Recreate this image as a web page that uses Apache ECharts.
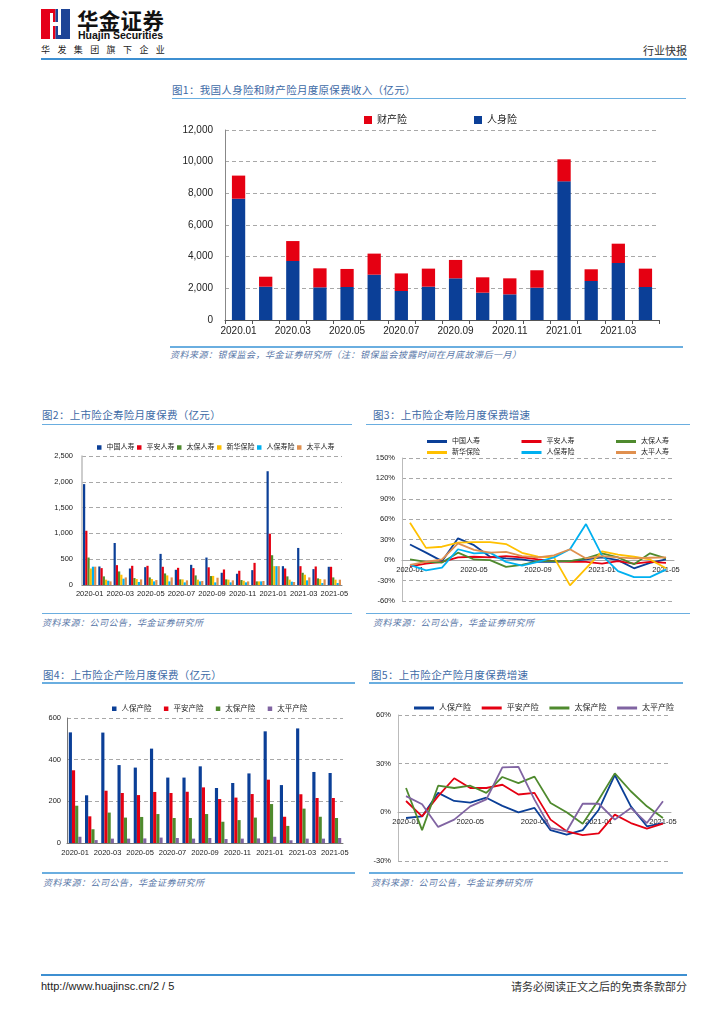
<!DOCTYPE html>
<html><head><meta charset="utf-8">
<script src="https://cdn.jsdelivr.net/npm/echarts/dist/echarts.min.js"></script>
<style>
body{margin:0;background:#fff;}
#page{position:relative;width:724px;height:1024px;background:#fff;overflow:hidden;font-family:"Noto Sans CJK SC","Liberation Sans",sans-serif;}
.t{position:absolute;white-space:nowrap;}
.title{font-size:10.5px;line-height:12px;color:#3d6aa6;letter-spacing:0.3px;}
.src{font-size:9px;line-height:10px;color:#5a78a8;font-style:italic;letter-spacing:0.5px;}
.ln{position:absolute;height:1.5px;background:#6aaee0;}
.ch{position:absolute;}
</style></head>
<body><div id="page">
<!-- header -->
<svg class="t" style="left:41px;top:9px" width="29" height="30" viewBox="0 0 29 30">
<rect x="0" y="0" width="14.5" height="30" fill="#e50019"/>
<rect x="14.5" y="0" width="14.5" height="30" fill="#1e4496"/>
<rect x="9" y="4" width="3" height="26" fill="#fff"/>
<rect x="17" y="0" width="3" height="26" fill="#fff"/>
<rect x="12" y="13" width="5" height="4" fill="#fff"/>
</svg>
<div class="t" style="left:77px;top:8px;font-size:21.5px;line-height:24px;font-weight:bold;color:#111;letter-spacing:0.3px;">华金证券</div>
<div class="t" style="left:78px;top:30px;font-size:10.5px;line-height:11px;font-weight:bold;color:#111;font-family:'Liberation Sans',sans-serif;">Huajin Securities</div>
<div class="t" style="left:41px;top:45px;font-size:9px;line-height:10px;color:#222;letter-spacing:7.4px;">华发集团旗下企业</div>
<div class="t" style="left:643px;top:44px;font-size:11px;line-height:12px;color:#333;">行业快报</div>
<div class="ln" style="left:41px;top:58px;width:646px;height:2px;background:#3d8fd1;"></div>

<!-- chart 1 -->
<div class="t title" style="left:172px;top:84px;">图1：我国人身险和财产险月度原保费收入（亿元）</div>
<div class="ln" style="left:172px;top:97.5px;width:514px;"></div>
<div id="c1" class="ch" style="left:170px;top:105px;width:520px;height:235px;"></div>
<div class="ln" style="left:170px;top:346px;width:513px;"></div>
<div class="t src" style="left:170px;top:350px;">资料来源：银保监会，华金证券研究所（注：银保监会披露时间在月底故滞后一月）</div>

<!-- chart 2 -->
<div class="t title" style="left:42px;top:409px;">图2：上市险企寿险月度保费（亿元）</div>
<div class="ln" style="left:42px;top:423.5px;width:310px;"></div>
<div id="c2" class="ch" style="left:30px;top:425px;width:330px;height:185px;"></div>
<div class="ln" style="left:42px;top:612.5px;width:310px;"></div>
<div class="t src" style="left:42px;top:618px;">资料来源：公司公告，华金证券研究所</div>

<!-- chart 3 -->
<div class="t title" style="left:373px;top:409px;">图3：上市险企寿险月度保费增速</div>
<div class="ln" style="left:366px;top:423.5px;width:324px;"></div>
<div id="c3" class="ch" style="left:360px;top:425px;width:340px;height:185px;"></div>
<div class="ln" style="left:366px;top:612.5px;width:324px;"></div>
<div class="t src" style="left:373px;top:618px;">资料来源：公司公告，华金证券研究所</div>

<!-- chart 4 -->
<div class="t title" style="left:43px;top:669px;">图4：上市险企产险月度保费（亿元）</div>
<div class="ln" style="left:42px;top:682px;width:313px;"></div>
<div id="c4" class="ch" style="left:30px;top:685px;width:330px;height:185px;"></div>
<div class="ln" style="left:42px;top:872px;width:313px;"></div>
<div class="t src" style="left:43px;top:878px;">资料来源：公司公告，华金证券研究所</div>

<!-- chart 5 -->
<div class="t title" style="left:371px;top:669px;">图5：上市险企产险月度保费增速</div>
<div class="ln" style="left:369px;top:682px;width:314px;"></div>
<div id="c5" class="ch" style="left:360px;top:685px;width:340px;height:185px;"></div>
<div class="ln" style="left:369px;top:872px;width:314px;"></div>
<div class="t src" style="left:371px;top:878px;">资料来源：公司公告，华金证券研究所</div>

<!-- footer -->
<div class="ln" style="left:41px;top:974px;width:646px;height:2px;background:#3d8fd1;"></div>
<div class="t" style="left:41px;top:980px;font-size:11px;line-height:12px;color:#222;font-family:'Liberation Sans',sans-serif;">http://www.huajinsc.cn/2 / 5</div>
<div class="t" style="right:37px;top:980px;font-size:11px;line-height:12px;color:#333;">请务必阅读正文之后的免责条款部分</div>
</div>
<script>
// ---------- data ----------
const months1 = ['2020.01','2020.02','2020.03','2020.04','2020.05','2020.06','2020.07','2020.08','2020.09','2020.10','2020.11','2020.12','2021.01','2021.02','2021.03','2021.04'];
const lifeIns = [7660,2105,3726,2063,2084,2863,1832,2105,2632,1726,1621,2042,8758,2463,3600,2084];
const propIns = [1460,630,1260,1200,1140,1330,1110,1140,1160,970,1010,1100,1390,740,1220,1160];

const months2 = ['2020-01','2020-02','2020-03','2020-04','2020-05','2020-06','2020-07','2020-08','2020-09','2020-10','2020-11','2020-12','2021-01','2021-02','2021-03','2021-04','2021-05'];
const chinaLife = [1955,359,814,320,346,603,295,391,532,237,218,288,2205,365,718,308,353];
const pingAnLife = [1051,327,385,372,372,353,333,327,343,301,276,429,994,320,365,359,353];
const cpicLife = [532,167,263,135,147,224,109,186,173,109,96,70,577,167,237,128,147];
const nciLife = [320,103,199,115,115,186,109,103,176,103,83,70,365,103,199,115,103];
const piccLife = [355,83,122,58,70,70,51,70,51,51,51,70,365,64,90,38,38];
const taipingLife = [355,70,147,109,96,147,90,77,141,90,70,77,365,58,147,109,103];

const gChinaLife = [23,11,-1.5,32,22,5,2.5,1,-2.5,-2.5,-1.5,1,4,0,-12,-4,1];
const gPingAnLife = [-9,-5,-2.5,4,5,4,6,4,1,-1.5,-2.5,-2.5,-5,-1.5,-5,-2.5,-4];
const gCpicLife = [1,-2.5,-3.5,11,1,0,-10,-7,-1.5,-1.5,-1.5,2.5,10,4,-6,10,2.5];
const gNciLife = [55,18,19.7,25.6,26.5,26.5,23.6,10.8,5,4,-37,-12,13,8,5,1,-12];
const gPiccLife = [-7,-15,-11,16,10,11,-2.5,-8,-2.5,4,16,53,7,-16,-25,-25,-14];
const gTaipingLife = [-7,-2.5,1,24.6,15,11,12,6,4,7,16,2.5,6,4,2.5,3.5,4];

const piccPC = [531,229,530,374,362,453,314,314,368,264,288,334,536,278,550,341,336];
const pingAnPC = [349,128,251,240,230,245,240,246,267,211,218,235,304,126,234,216,216];
const cpicPC = [179,66,146,122,125,139,120,120,139,102,110,122,187,82,165,126,120];
const taipingPC = [30,14,21,21,22,26,24,21,24,19,21,22,30,13,21,21,24];

const gPiccPC = [-3.5,-2.5,12,7,6,9,4,0,2.7,-11,-13.7,-11,1.6,23,3.7,-8.6,-6.6];
const gPingAnPC = [7,-2.5,10,21,15,15,17,11,12,-4.5,-11.7,-14,-13,-1.4,-6.6,-10,-7];
const gCpicPC = [15,-11,16.4,15,16.4,12,21.8,18,22,5.8,0,-7,7.8,24,13,3.7,-3.5];
const gTaipingPC = [10,5,-9,-4.5,3.7,8,27.7,28,7.8,-9.7,-11.7,5.3,5.3,-4.5,2.7,-6.6,6.8];

// ---------- styles ----------
const F = '"Liberation Sans","Noto Sans CJK SC",sans-serif';
const BLUE = '#0b3f97', RED = '#e50012', GREEN = '#4f8a2e', YELLOW = '#ffc000', LBLUE = '#00b0f0', ORANGE = '#e0904f', PURPLE = '#8064a2';
const dash = {show:true, lineStyle:{type:[4,3], color:'#a8a8a8', width:1}};
const fmtComma = v => v.toLocaleString('en-US');

function mk(id, opt){
  const c = echarts.init(document.getElementById(id), null, {renderer:'canvas'});
  opt.animation = false;
  c.setOption(opt);
  return c;
}
// labels of the line charts sit just under the zero line (the grid bottom is below it)
function zeroMargin(h, min, max, gap){ return gap - h * (0 - min) / (max - min); }

// chart 1
mk('c1', {
  legend:{data:['财产险','人身险'], left:189, top:5, icon:'rect', itemWidth:8, itemHeight:8, itemGap:67,
    textStyle:{fontSize:10, color:'#222', fontFamily:F}},
  grid:{left:55, top:25, width:434, height:190, containLabel:false, outerBoundsMode:'none'},
  xAxis:{type:'category', data:months1,
    axisLine:{show:true, lineStyle:{color:'#555', width:1}},
    axisTick:{show:true, interval:0, length:4, lineStyle:{color:'#555'}},
    axisLabel:{interval:1, fontSize:10, color:'#222', margin:6, fontFamily:F, hideOverlap:false}},
  yAxis:{type:'value', min:0, max:12000, interval:2000,
    axisLine:{show:true, lineStyle:{color:'#888'}}, axisTick:{show:false}, splitLine:dash,
    axisLabel:{fontSize:10, color:'#222', margin:12, fontFamily:F, formatter:fmtComma}},
  series:[
    {name:'人身险', type:'bar', stack:'t', data:lifeIns, barWidth:'49%', itemStyle:{color:BLUE}},
    {name:'财产险', type:'bar', stack:'t', data:propIns, barWidth:'49%', itemStyle:{color:RED}}
  ]
});

// chart 2
const names2 = ['中国人寿','平安人寿','太保人寿','新华保险','人保寿险','太平人寿'];
const data2 = [chinaLife, pingAnLife, cpicLife, nciLife, piccLife, taipingLife];
const cols6 = [BLUE, RED, GREEN, YELLOW, LBLUE, ORANGE];
mk('c2', {
  legend:{data:names2, left:62, top:14, icon:'rect', itemWidth:4.5, itemHeight:4.5, itemGap:2.5,
    textStyle:{fontSize:7, color:'#222', fontFamily:F}},
  grid:{left:52, top:31, width:260, height:129, containLabel:false, outerBoundsMode:'none'},
  xAxis:{type:'category', data:months2,
    axisLine:{show:true, lineStyle:{color:'#888'}}, axisTick:{show:false},
    axisLabel:{interval:1, fontSize:7.5, color:'#222', margin:5.5, fontFamily:F, hideOverlap:false}},
  yAxis:{type:'value', min:0, max:2500, interval:500,
    axisLine:{show:true, lineStyle:{color:'#bdbdbd', width:1.5}}, axisTick:{show:false}, splitLine:dash,
    axisLabel:{fontSize:7.5, color:'#222', margin:9, fontFamily:F, formatter:fmtComma}},
  series:names2.map((n,i)=>({name:n, type:'bar', data:data2[i], barGap:'0%', barCategoryGap:'13%', itemStyle:{color:cols6[i]}}))
});

// chart 3
const data3 = [gChinaLife, gPingAnLife, gCpicLife, gNciLife, gPiccLife, gTaipingLife];
const legLine = (names, top) => ({data:names, left:62, top:top, icon:'rect', itemWidth:20, itemHeight:3, itemGap:41.5,
    textStyle:{fontSize:7, color:'#222', fontFamily:F}});
mk('c3', {
  legend:[legLine(names2.slice(0,3), 8), legLine(names2.slice(3), 19)],
  grid:{left:42, top:33, width:272, height:143, containLabel:false, outerBoundsMode:'none'},
  xAxis:{type:'category', data:months2, axisLine:{show:true, onZero:true, lineStyle:{color:'#aaa'}}, axisTick:{show:false},
    axisLabel:{interval:3, fontSize:7.5, color:'#222', margin:zeroMargin(143, -60, 150, 6), fontFamily:F, hideOverlap:false}},
  yAxis:{type:'value', min:-60, max:150, interval:30,
    axisLine:{show:true, lineStyle:{color:'#bbb'}}, axisTick:{show:false}, splitLine:dash,
    axisLabel:{fontSize:7.5, color:'#222', margin:7, fontFamily:F, formatter:'{value}%'}},
  series:names2.map((n,i)=>({name:n, type:'line', data:data3[i], symbol:'none', lineStyle:{width:1.8, color:cols6[i]}, itemStyle:{color:cols6[i]}}))
});

// chart 4
const names4 = ['人保产险','平安产险','太保产险','太平产险'];
const cols4 = [BLUE, RED, GREEN, PURPLE];
const data4 = [piccPC, pingAnPC, cpicPC, taipingPC];
mk('c4', {
  legend:{data:names4, left:77, top:15, icon:'rect', itemWidth:4.5, itemHeight:4.5, itemGap:12.4,
    textStyle:{fontSize:7.5, color:'#222', fontFamily:F}},
  grid:{left:37, top:33, width:276, height:125, containLabel:false, outerBoundsMode:'none'},
  xAxis:{type:'category', data:months2,
    axisLine:{show:true, lineStyle:{color:'#777'}}, axisTick:{show:false},
    axisLabel:{interval:1, fontSize:7.5, color:'#222', margin:6, fontFamily:F, hideOverlap:false}},
  yAxis:{type:'value', min:0, max:600, interval:200,
    axisLine:{show:true, lineStyle:{color:'#777'}}, axisTick:{show:false}, splitLine:dash,
    axisLabel:{fontSize:7.5, color:'#222', margin:6, fontFamily:F}},
  series:names4.map((n,i)=>({name:n, type:'bar', data:data4[i], barGap:'0%', barCategoryGap:'22%', itemStyle:{color:cols4[i]}}))
});

// chart 5
const data5 = [gPiccPC, gPingAnPC, gCpicPC, gTaipingPC];
mk('c5', {
  legend:{data:names4, left:49, top:14, icon:'rect', itemWidth:20, itemHeight:3, itemGap:10.7,
    textStyle:{fontSize:8, color:'#222', fontFamily:F}},
  grid:{left:38, top:30, width:273, height:146, containLabel:false, outerBoundsMode:'none'},
  xAxis:{type:'category', data:months2, axisLine:{show:true, onZero:true, lineStyle:{color:'#aaa'}}, axisTick:{show:false},
    axisLabel:{interval:3, fontSize:7.5, color:'#222', margin:zeroMargin(146, -30, 60, 6), fontFamily:F, hideOverlap:false}},
  yAxis:{type:'value', min:-30, max:60, interval:30,
    axisLine:{show:true, lineStyle:{color:'#bbb'}}, axisTick:{show:false}, splitLine:dash,
    axisLabel:{fontSize:7.5, color:'#222', margin:7, fontFamily:F, formatter:'{value}%'}},
  series:names4.map((n,i)=>({name:n, type:'line', data:data5[i], symbol:'none', lineStyle:{width:1.8, color:cols4[i]}, itemStyle:{color:cols4[i]}}))
});
</script>
</body></html>
